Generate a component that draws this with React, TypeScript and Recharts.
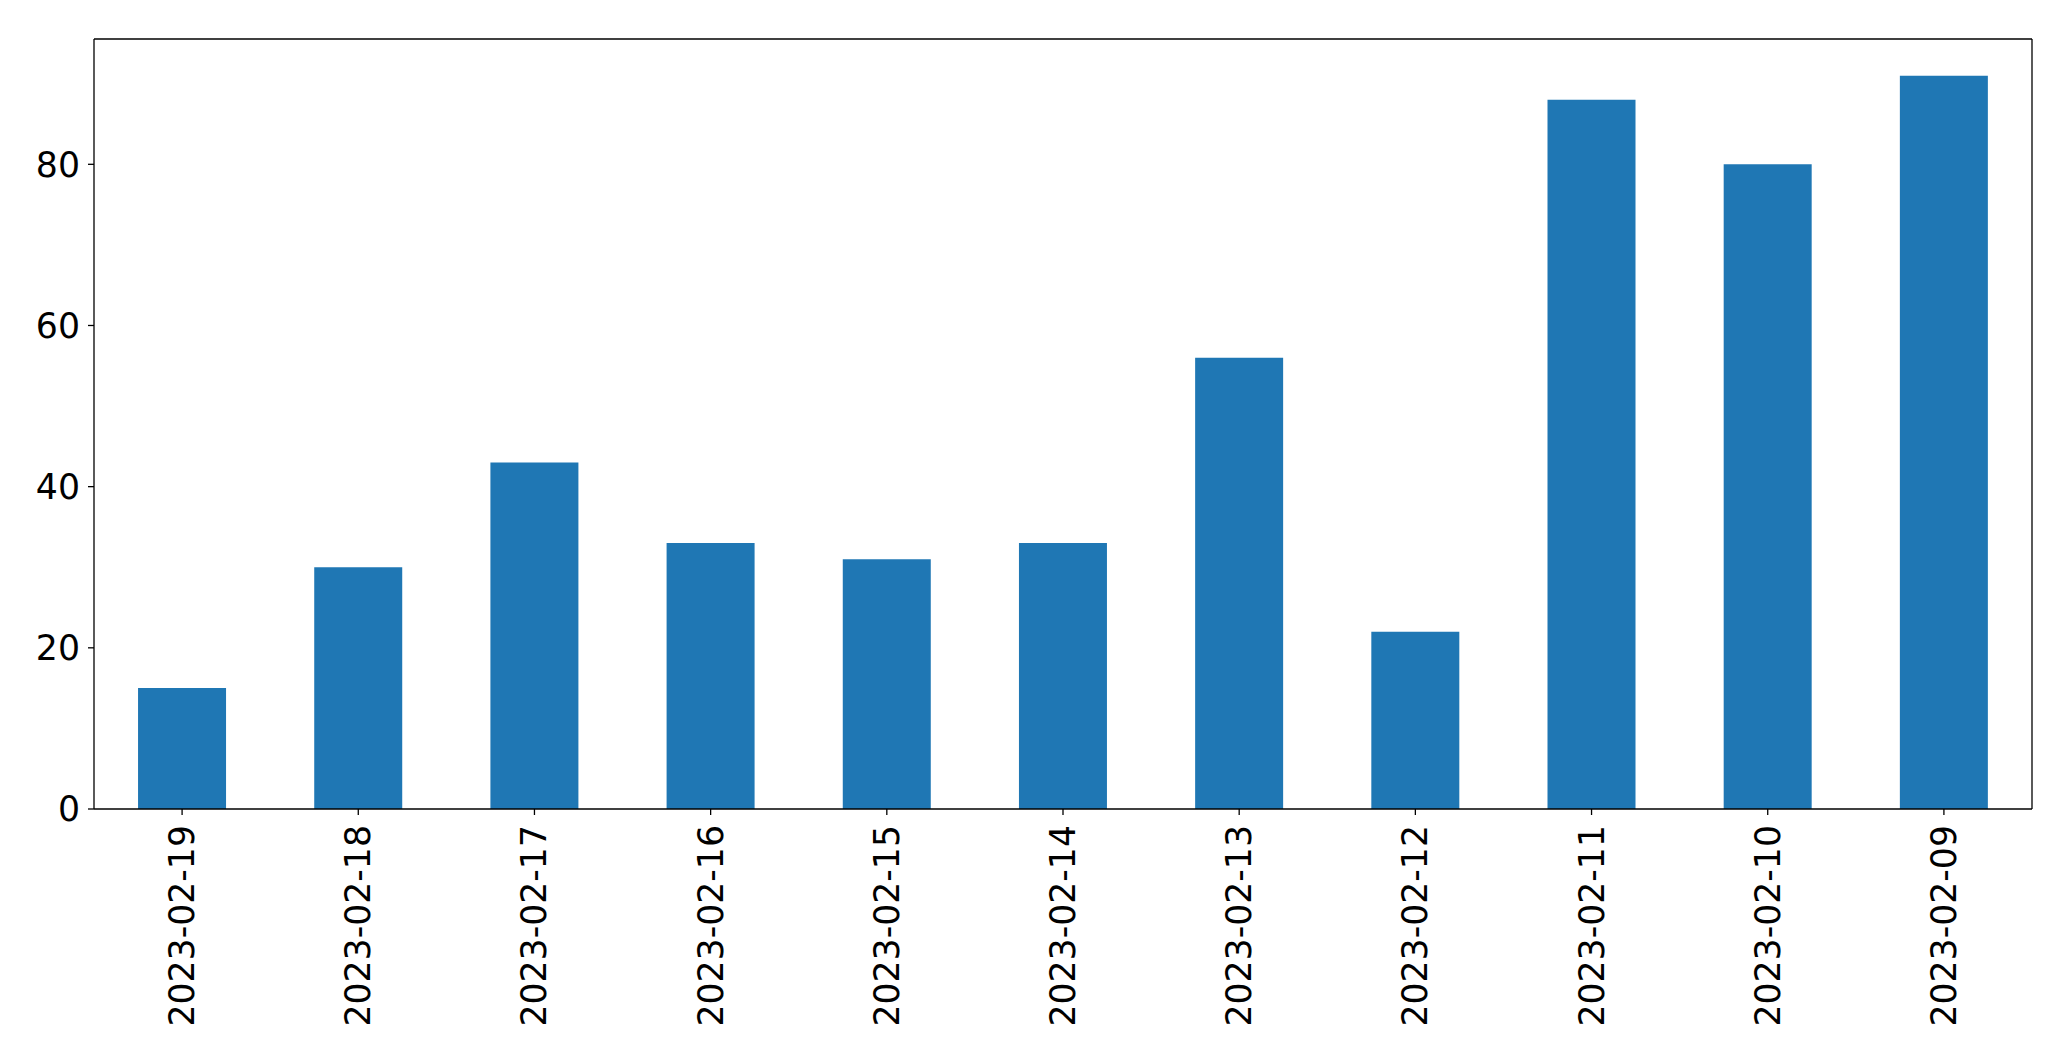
import React from "react";
import { BarChart, Bar, XAxis, YAxis } from "recharts";

const dates = [
  "2023-02-19",
  "2023-02-18",
  "2023-02-17",
  "2023-02-16",
  "2023-02-15",
  "2023-02-14",
  "2023-02-13",
  "2023-02-12",
  "2023-02-11",
  "2023-02-10",
  "2023-02-09",
];
const counts = [15, 30, 43, 33, 31, 33, 56, 22, 88, 80, 91];
const yTicks = [0, 20, 40, 60, 80];

const FONT = "DejaVu Sans";
const FONT_SIZE = 34.7;
const Y_MAX = 95.55;

const data = dates.map((d, i) => ({ date: d, count: counts[i] }));

// matplotlib-style rotated date labels
const DateTick = ({ x, y, payload }: any) => (
  <text
    x={x}
    y={y}
    transform={`rotate(-90, ${x}, ${y})`}
    textAnchor="end"
    dominantBaseline="central"
    fontFamily={FONT}
    fontSize={FONT_SIZE}
    fill="#000"
  >
    {payload.value}
  </text>
);

export default function App() {
  return (
    <div style={{ position: "absolute", left: 0, top: 0, background: "#fff" }}>
      <BarChart
        width={2071}
        height={1061}
        data={data}
        margin={{ top: 38, right: 38, left: 0, bottom: 0 }}
        barCategoryGap="25%"
      >
        <XAxis
          dataKey="date"
          height={252}
          interval={0}
          tick={<DateTick />}
          tickSize={6}
          tickMargin={10}
          axisLine={{ stroke: "#000", strokeWidth: 1.3 }}
          tickLine={{ stroke: "#000", strokeWidth: 1.3 }}
        />
        <XAxis
          xAxisId="top"
          dataKey="date"
          orientation="top"
          height={1}
          tick={false}
          tickLine={false}
          axisLine={{ stroke: "#000", strokeWidth: 1.3 }}
        />
        <YAxis
          width={94}
          domain={[0, Y_MAX]}
          ticks={yTicks}
          tickSize={6}
          tickMargin={8}
          tick={{ fontFamily: FONT, fontSize: FONT_SIZE, fill: "#000" }}
          axisLine={{ stroke: "#000", strokeWidth: 1.3 }}
          tickLine={{ stroke: "#000", strokeWidth: 1.3 }}
        />
        <YAxis
          yAxisId="right"
          orientation="right"
          width={1}
          domain={[0, Y_MAX]}
          tick={false}
          tickLine={false}
          axisLine={{ stroke: "#000", strokeWidth: 1.3 }}
        />
        <Bar dataKey="count" fill="#1f77b4" isAnimationActive={false} />
        {/* invisible series so the frame axes get drawn */}
        <Bar
          xAxisId="top"
          yAxisId="right"
          dataKey="count"
          fill="none"
          stroke="none"
          isAnimationActive={false}
        />
      </BarChart>
    </div>
  );
}
